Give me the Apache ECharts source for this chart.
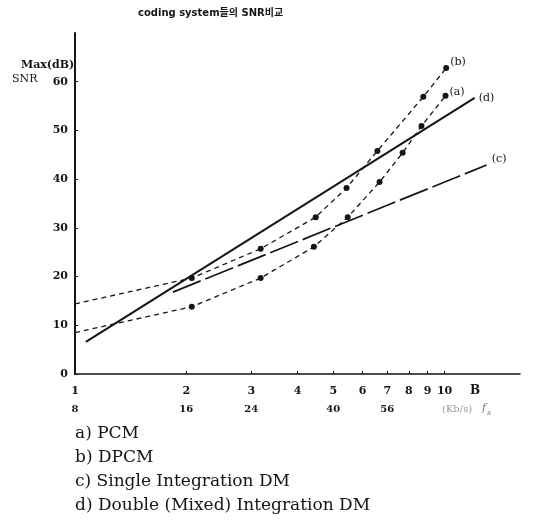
<!DOCTYPE html>
<html>
<head>
<meta charset="utf-8">
<script src="https://cdn.jsdelivr.net/npm/echarts@6/dist/echarts.min.js"></script>
<style>
  html, body { margin: 0; background: #fff; }
  #chart { width: 550px; height: 520px; }
</style>
</head>
<body>
<div id="chart"></div>
<script>
// tick labels
const bitTicks = [1, 2, 3, 4, 5, 6, 7, 8, 9, 10];
const kbpsTicks = [8, 16, 24, 40, 56];
const snrTicks = [0, 10, 20, 30, 40, 50, 60];

// series (B = bits per sample, SNR in dB)
const pcmB = [1, 2.07, 3.18, 4.43, 5.47, 6.67, 7.7, 8.66, 10.06];
const pcmSnr = [8.5, 13.8, 19.7, 26.1, 32.2, 39.4, 45.4, 50.9, 57.1];
const dpcmB = [1, 2.07, 3.18, 4.48, 5.43, 6.58, 8.76, 10.1];
const dpcmSnr = [14.4, 19.7, 25.7, 32.2, 38.2, 45.8, 56.9, 62.8];
const sidmB = [1.84, 13.0];
const sidmSnr = [16.8, 42.9];
const ddmB = [1.07, 12.06];
const ddmSnr = [6.6, 56.7];

const names = ["a) PCM", "b) DPCM", "c) Single Integration DM", "d) Double (Mixed) Integration DM"];

const serif = "DejaVu Serif";
const ink = "#151515";
const pairs = (xs, ys) => xs.map((x, i) => [x, ys[i]]);
const skipFirst = (v, p) => (p.dataIndex === 0 ? "none" : "circle");

const chart = echarts.init(document.getElementById("chart"));
chart.setOption({
  animation: false,
  title: {
    text: "coding system들의 SNR비교",
    left: 133,
    top: 3,
    textStyle: { fontSize: 10, fontWeight: "bold", color: ink, fontFamily: "DejaVu Sans, Noto Sans CJK KR" },
  },
  grid: { left: 75, right: 30, top: 33, bottom: 146 },
  legend: {
    orient: "vertical",
    left: 70,
    top: 424,
    padding: 0,
    itemGap: 4,
    itemWidth: 0,
    itemHeight: 16,
    icon: "none",
    selectedMode: false,
    textStyle: { fontFamily: serif, fontSize: 17, color: ink, lineHeight: 20 },
    data: names,
  },
  xAxis: [
    {
      type: "log",
      logBase: 10,
      min: 1,
      max: 16,
      axisLine: { lineStyle: { color: ink, width: 1.5 } },
      axisTick: { show: true, inside: true, length: 3, customValues: bitTicks, lineStyle: { color: ink } },
      axisLabel: { customValues: bitTicks, margin: 12, fontFamily: serif, fontSize: 11, fontWeight: "bold", color: ink },
      splitLine: { show: false },
      minorTick: { show: false },
    },
    {
      type: "log",
      logBase: 10,
      min: 8,
      max: 128,
      position: "bottom",
      offset: 18,
      axisLine: { show: false },
      axisTick: { show: false },
      axisLabel: { customValues: kbpsTicks, margin: 12, fontFamily: serif, fontSize: 10, fontWeight: "bold", color: ink },
      splitLine: { show: false },
    },
  ],
  yAxis: {
    type: "value",
    min: 0,
    max: 70,
    interval: 10,
    axisLine: { show: true, lineStyle: { color: ink, width: 2 } },
    axisTick: { show: true, inside: true, length: 3, customValues: snrTicks, lineStyle: { color: ink } },
    axisLabel: { customValues: snrTicks, margin: 7, fontFamily: serif, fontSize: 11, fontWeight: "bold", color: ink },
    splitLine: { show: false },
  },
  graphic: [
    { type: "text", left: 21, top: 60, style: { text: "Max(dB)", font: "bold 11px DejaVu Serif", fill: ink } },
    { type: "text", left: 12, top: 74, style: { text: "SNR", font: "11px DejaVu Serif", fill: ink } },
    { type: "text", left: 470, top: 385, style: { text: "B", font: "bold 12px DejaVu Serif", fill: ink } },
    { type: "text", left: 442, top: 404, style: { text: "(Kb/s)", font: "10px DejaVu Serif", fill: "#999" } },
    { type: "text", left: 482, top: 403, style: { text: "f", font: "italic 11px DejaVu Serif", fill: "#777" } },
    { type: "text", left: 487, top: 409, style: { text: "s", font: "italic 8px DejaVu Serif", fill: "#777" } },
  ],
  series: [
    {
      name: names[0],
      type: "line",
      data: pairs(pcmB, pcmSnr),
      symbol: skipFirst,
      symbolSize: 6,
      itemStyle: { color: ink },
      lineStyle: { color: ink, width: 1.3, type: [5, 4] },
      endLabel: { show: true, formatter: "(a)", distance: 4, offset: [0, -4], fontFamily: serif, fontSize: 11, color: ink },
    },
    {
      name: names[1],
      type: "line",
      data: pairs(dpcmB, dpcmSnr),
      symbol: skipFirst,
      symbolSize: 6,
      itemStyle: { color: ink },
      lineStyle: { color: ink, width: 1.3, type: [5, 4] },
      endLabel: { show: true, formatter: "(b)", distance: 4, offset: [0, -6], fontFamily: serif, fontSize: 11, color: ink },
    },
    {
      name: names[2],
      type: "line",
      data: pairs(sidmB, sidmSnr),
      showSymbol: false,
      itemStyle: { color: ink },
      lineStyle: { color: ink, width: 1.7, type: [30, 5] },
      endLabel: { show: true, formatter: "(c)", distance: 5, offset: [0, -6], fontFamily: serif, fontSize: 11, color: ink },
    },
    {
      name: names[3],
      type: "line",
      data: pairs(ddmB, ddmSnr),
      showSymbol: false,
      itemStyle: { color: ink },
      lineStyle: { color: ink, width: 2 },
      endLabel: { show: true, formatter: "(d)", distance: 4, fontFamily: serif, fontSize: 11, color: ink },
    },
  ],
});
</script>
</body>
</html>
